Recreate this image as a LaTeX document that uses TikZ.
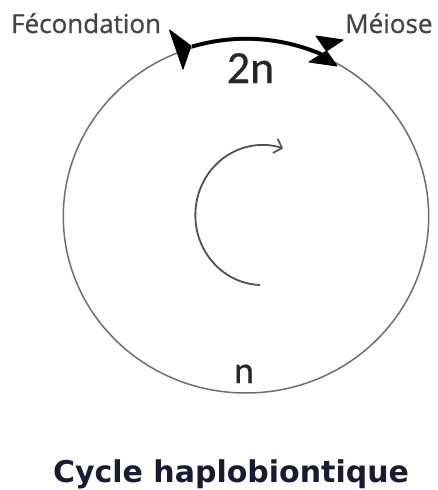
\documentclass[tikz,border=0pt]{standalone}
\usepackage{fontspec}
\usetikzlibrary{arrows.meta}
\newfontfamily\labfont[FakeBold=0.8]{Open Sans}
\newfontfamily\numfont[FakeBold=0.5]{Carlito}
\newfontfamily\titfont{DejaVu Sans}
\definecolor{labgray}{HTML}{444444}
\definecolor{circgray}{HTML}{6E6E6E}
\definecolor{arrgray}{HTML}{505050}
\definecolor{titblue}{HTML}{1A1A33}
\tikzset{
  lab/.style={inner sep=0pt, text=labgray, font=\labfont\fontsize{26}{30}\selectfont},
  ploidy/.style={inner sep=0pt, text=black!85, font=\numfont\fontsize{46}{50}\selectfont},
  ploidysmall/.style={inner sep=0pt, text=black!85, font=\numfont\fontsize{38}{42}\selectfont},
  title/.style={inner sep=0pt, text=titblue, font=\titfont\bfseries\fontsize{30}{34}\selectfont},
  cyclecircle/.style={draw=circgray, line width=1.5pt},
  diplo/.style={draw=black, line width=3.8pt},
  marker/.style={fill=black, draw=black, line width=1pt, line join=round},
  turn/.style={draw=arrgray, line width=1.8pt, -{Straight Barb[length=7pt,width=15pt,line width=1.7pt]}}
}
\begin{document}
\begin{tikzpicture}[x=1pt,y=-1pt]
\useasboundingbox (0,0) rectangle (437,490);
% main cycle
\draw[cyclecircle] (246,216.5) ellipse[x radius=182.7pt, y radius=176.5pt];
% diploid phase arc
\coordinate (fec) at (192,46.5);
\draw[diplo] (fec) arc[start angle=107, end angle=66, x radius=185pt, y radius=178pt] coordinate (mei);
% Fecondation marker
\filldraw[marker] (169.5,30) -- (183,69) -- (191,46) -- cycle;
% Meiose marker (hourglass)
\filldraw[marker] (316,36) -- (343,40) -- (326.5,51) -- cycle;
\filldraw[marker] (309,62) -- (337,66) -- (326.5,51) -- cycle;
% rotation arrow
\coordinate (rs) at (260,285);
\draw[turn] (rs) arc[start angle=268, end angle=72, x radius=67pt, y radius=70pt];
% labels
\node[lab, anchor=base west] (fecl) at (11,33) {Fécondation};
\node[lab, anchor=base west] (meil) at (345,33) {Méiose};
\node[ploidy, anchor=base] (dn) at (250.5,83) {2n};
\node[ploidysmall, anchor=base] (hn) at (244,383) {n};
\node[title, anchor=base] (tit) at (231,482) {Cycle haplobiontique};
\end{tikzpicture}
\end{document}
